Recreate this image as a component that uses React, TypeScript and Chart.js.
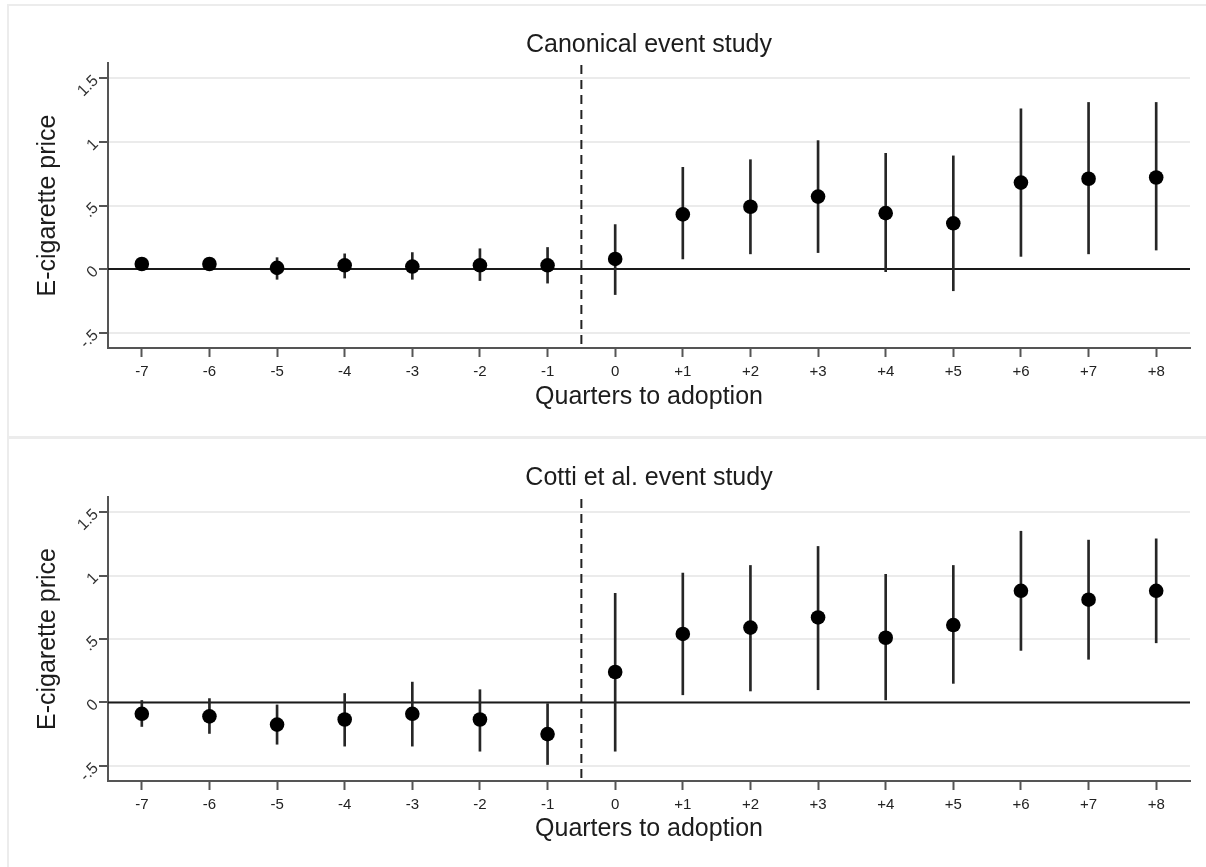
import React, { useEffect, useRef } from "react";
import { Chart, registerables } from "chart.js";

Chart.register(...registerables);

// ---- Data ----
const quarters = [-7, -6, -5, -4, -3, -2, -1, 0, 1, 2, 3, 4, 5, 6, 7, 8];
const xTickLabels = ["-7", "-6", "-5", "-4", "-3", "-2", "-1", "0", "+1", "+2", "+3", "+4", "+5", "+6", "+7", "+8"];
const yTickValues = [-0.5, 0, 0.5, 1, 1.5];
const yTickLabels = ["-.5", "0", ".5", "1", "1.5"];

const canonicalEstimate = [0.04, 0.04, 0.01, 0.03, 0.02, 0.03, 0.03, 0.08, 0.43, 0.49, 0.57, 0.44, 0.36, 0.68, 0.71, 0.72];
const canonicalLower = [0.0, 0.0, -0.08, -0.07, -0.08, -0.09, -0.11, -0.2, 0.08, 0.12, 0.13, -0.02, -0.17, 0.1, 0.12, 0.15];
const canonicalUpper = [0.07, 0.08, 0.09, 0.12, 0.13, 0.16, 0.17, 0.35, 0.8, 0.86, 1.01, 0.91, 0.89, 1.26, 1.31, 1.31];

const cottiEstimate = [-0.09, -0.11, -0.175, -0.135, -0.09, -0.135, -0.25, 0.24, 0.54, 0.59, 0.67, 0.51, 0.61, 0.88, 0.81, 0.88];
const cottiLower = [-0.19, -0.245, -0.33, -0.345, -0.345, -0.385, -0.49, -0.385, 0.06, 0.09, 0.1, 0.02, 0.15, 0.41, 0.34, 0.47];
const cottiUpper = [0.015, 0.03, -0.02, 0.07, 0.16, 0.1, -0.01, 0.86, 1.02, 1.08, 1.23, 1.01, 1.08, 1.35, 1.28, 1.29];

const zeroLineValue = 0;
const adoptionLineValue = -0.5;
const xMin = -7.5;
const xMax = 8.5;
const yMin = -0.62;
const yMax = 1.62;

const FONT = "'Liberation Sans', Arial, Helvetica, sans-serif";
const TEXT = "#1c1c1c";

type PanelSpec = {
  title: string;
  estimate: number[];
  lower: number[];
  upper: number[];
  top: number;
  height: number;
  titlePadTop: number;
  titlePadBottom: number;
  xAxisHeight: number;
  xTitlePadBottom: number;
};

const panels: PanelSpec[] = [
  {
    title: "Canonical event study",
    estimate: canonicalEstimate,
    lower: canonicalLower,
    upper: canonicalUpper,
    top: 0,
    height: 437,
    titlePadTop: 30,
    titlePadBottom: 3,
    xAxisHeight: 89,
    xTitlePadBottom: 25,
  },
  {
    title: "Cotti et al. event study",
    estimate: cottiEstimate,
    lower: cottiLower,
    upper: cottiUpper,
    top: 437,
    height: 430,
    titlePadTop: 26,
    titlePadBottom: 4,
    xAxisHeight: 86,
    xTitlePadBottom: 23,
  },
];

const refLines = {
  id: "refLines",
  beforeDatasetsDraw(chart: any) {
    const { ctx, chartArea, scales } = chart;
    const y0 = scales.y.getPixelForValue(zeroLineValue);
    const xa = scales.x.getPixelForValue(adoptionLineValue);
    ctx.save();
    ctx.strokeStyle = "#1a1a1a";
    ctx.lineWidth = 2;
    ctx.beginPath();
    ctx.moveTo(chartArea.left, y0);
    ctx.lineTo(chartArea.right, y0);
    ctx.stroke();
    ctx.setLineDash([9, 6]);
    ctx.strokeStyle = "#222";
    ctx.beginPath();
    ctx.moveTo(xa, chartArea.top + 2);
    ctx.lineTo(xa, chartArea.bottom);
    ctx.stroke();
    ctx.restore();
  },
};

function Panel({ spec }: { spec: PanelSpec }) {
  const ref = useRef<HTMLCanvasElement | null>(null);
  useEffect(() => {
    if (!ref.current) return;
    const ciData = quarters.map((q, i) => ({ x: q, y: [spec.lower[i], spec.upper[i]] }));
    const ptData = quarters.map((q, i) => ({ x: q, y: spec.estimate[i] }));
    const chart = new Chart(ref.current, {
      type: "bar",
      data: {
        datasets: [
          {
            type: "bar",
            data: ciData as any,
            backgroundColor: "#262626",
            borderWidth: 0,
            barThickness: 2,
            grouped: false,
            order: 2,
          } as any,
          {
            type: "scatter",
            data: ptData,
            backgroundColor: "#000",
            borderWidth: 0,
            pointRadius: 7.3,
            order: 1,
          } as any,
        ],
      },
      plugins: [refLines],
      options: {
        responsive: false,
        animation: false,
        events: [],
        layout: { padding: { left: 0, right: 16, top: 0, bottom: 0 } },
        plugins: {
          legend: { display: false },
          tooltip: { enabled: false },
          title: {
            display: true,
            text: spec.title,
            fullSize: false,
            color: TEXT,
            font: { family: FONT, size: 25, weight: "normal" },
            padding: { top: spec.titlePadTop, bottom: spec.titlePadBottom },
          },
        },
        scales: {
          x: {
            type: "linear",
            min: xMin,
            max: xMax,
            offset: false,
            grid: {
              offset: false,
              drawOnChartArea: false,
              drawTicks: true,
              tickLength: 9,
              tickColor: "#555",
              tickWidth: 2,
            },
            border: { display: true, color: "#555", width: 2 },
            afterBuildTicks: (scale: any) => {
              scale.ticks = quarters.map((v) => ({ value: v }));
            },
            afterFit: (scale: any) => {
              scale.height = spec.xAxisHeight;
            },
            ticks: {
              autoSkip: false,
              maxRotation: 0,
              minRotation: 0,
              padding: 6,
              color: "#222",
              font: { family: FONT, size: 15 },
              callback: (v: any) => {
                const i = quarters.indexOf(Number(v));
                return i >= 0 ? xTickLabels[i] : "";
              },
            },
            title: {
              display: true,
              text: "Quarters to adoption",
              color: TEXT,
              font: { family: FONT, size: 25 },
              padding: { top: 0, bottom: spec.xTitlePadBottom },
            },
          },
          y: {
            type: "linear",
            min: yMin,
            max: yMax,
            grid: {
              color: "#ebebeb",
              lineWidth: 2,
              drawTicks: true,
              tickLength: 9,
              tickColor: "#555",
              tickWidth: 2,
            },
            border: { display: true, color: "#555", width: 2 },
            afterBuildTicks: (scale: any) => {
              scale.ticks = yTickValues.map((v) => ({ value: v }));
            },
            afterFit: (scale: any) => {
              scale.width = 108;
            },
            ticks: {
              autoSkip: false,
              minRotation: 45,
              maxRotation: 45,
              padding: 3,
              color: "#333",
              font: { family: FONT, size: 16 },
              callback: (v: any) => {
                const i = yTickValues.indexOf(Number(v));
                return i >= 0 ? yTickLabels[i] : "";
              },
            },
            title: {
              display: true,
              text: "E-cigarette price",
              color: TEXT,
              font: { family: FONT, size: 25 },
              padding: { top: 33, bottom: 0 },
            },
          },
        },
      } as any,
    });
    return () => chart.destroy();
  }, [spec]);
  return (
    <canvas
      ref={ref}
      width={1206}
      height={spec.height}
      style={{ position: "absolute", left: 0, top: spec.top, width: 1206, height: spec.height }}
    />
  );
}

export default function App() {
  const line = "#ececec";
  return (
    <div style={{ position: "fixed", left: 0, top: 0, width: 1206, height: 867, background: "#fff", overflow: "hidden" }}>
      <div style={{ position: "absolute", left: 7, top: 4, width: 1199, height: 2, background: line }} />
      <div style={{ position: "absolute", left: 7, top: 4, width: 2, height: 863, background: line }} />
      <div style={{ position: "absolute", left: 7, top: 436, width: 1199, height: 3, background: line }} />
      {panels.map((p) => (
        <Panel key={p.title} spec={p} />
      ))}
    </div>
  );
}
